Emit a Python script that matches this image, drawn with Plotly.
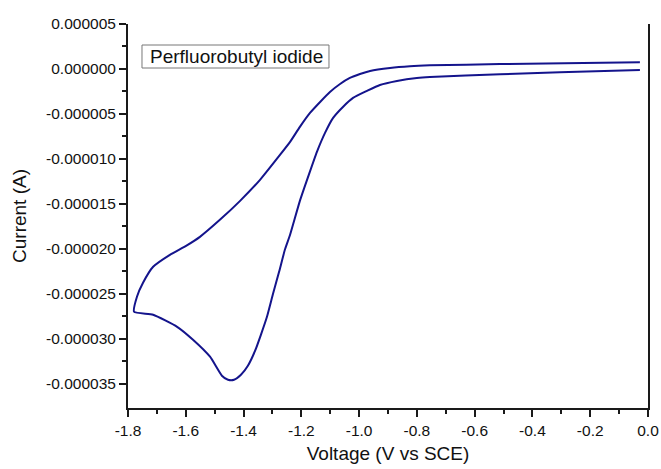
import plotly.graph_objects as go

# Forward (cathodic) sweep: from ~0 V down to the vertex
fwd_v = [-0.028, -0.305, -0.512, -0.755, -0.800, -0.869, -0.928, -0.973, -1.021, -1.056,
         -1.090, -1.118, -1.146, -1.173, -1.205, -1.239, -1.257, -1.277, -1.298, -1.319,
         -1.340, -1.360, -1.385, -1.409, -1.433, -1.454, -1.475, -1.516, -1.575, -1.630,
         -1.713, -1.779]
fwd_i_uA = [-0.11, -0.37, -0.59, -0.89, -1.0, -1.33, -1.78, -2.44, -3.22, -4.22,
            -5.44, -7.11, -9.22, -11.67, -14.67, -18.44, -20.11, -22.56, -25.0, -27.56,
            -29.56, -31.33, -33.0, -34.0, -34.56, -34.56, -34.11, -32.0, -30.11, -28.67,
            -27.33, -27.0]
# Return sweep: from the vertex back to ~0 V
rev_v = [-1.769, -1.748, -1.713, -1.655, -1.599, -1.551, -1.482, -1.412, -1.343, -1.274,
         -1.239, -1.205, -1.170, -1.135, -1.101, -1.066, -1.032, -0.997, -0.962, -0.893,
         -0.824, -0.755, -0.512, -0.028]
rev_i_uA = [-25.33, -23.78, -22.0, -20.67, -19.67, -18.67, -16.78, -14.67, -12.33, -9.56,
            -8.11, -6.44, -4.89, -3.67, -2.56, -1.67, -1.0, -0.56, -0.22, 0.11,
            0.30, 0.40, 0.54, 0.76]

x_ticks = [-1.8, -1.6, -1.4, -1.2, -1.0, -0.8, -0.6, -0.4, -0.2, 0.0]
x_labels = ["-1.8", "-1.6", "-1.4", "-1.2", "-1.0", "-0.8", "-0.6", "-0.4", "-0.2", "0.0"]
y_ticks = [0.000005, 0.0, -0.000005, -0.000010, -0.000015, -0.000020, -0.000025,
           -0.000030, -0.000035]
y_labels = ["0.000005", "0.000000", "-0.000005", "-0.000010", "-0.000015", "-0.000020",
            "-0.000025", "-0.000030", "-0.000035"]
label = "Perfluorobutyl iodide"

volt = fwd_v + rev_v
curr = [v * 1e-6 for v in fwd_i_uA + rev_i_uA]

FONT = "Arial, Liberation Sans, sans-serif"
AX = "#1a1a1a"
Y_RANGE = [-0.0000377, 0.000005]

x_minor = [round((a + b) / 2, 3) for a, b in zip(x_ticks[:-1], x_ticks[1:])]
y_minor = [(a + b) / 2 for a, b in zip(y_ticks[:-1], y_ticks[1:])]

fig = go.Figure()
fig.add_trace(go.Scatter(x=volt, y=curr, mode="lines",
                         line=dict(color="#14148c", width=2, shape="spline", smoothing=0.5),
                         showlegend=False))
fig.add_trace(go.Scatter(x=[None], y=[None], yaxis="y2", showlegend=False))

fig.update_layout(
    width=661, height=469,
    margin=dict(l=128, r=13, t=24, b=61, autoexpand=False),
    paper_bgcolor="white", plot_bgcolor="white",
    font=dict(family=FONT, size=15.5, color="#111"),
    xaxis=dict(range=[-1.8, 0.0], tickmode="array", tickvals=x_ticks, ticktext=x_labels,
               automargin=False,
               showgrid=False, zeroline=False, showline=True, linecolor=AX, linewidth=2,
               ticks="outside", ticklen=7, tickwidth=2, tickcolor=AX,
               minor=dict(tickmode="array", tickvals=x_minor, ticks="outside", ticklen=4,
                          tickwidth=2, tickcolor=AX),
               title=dict(text="Voltage (V vs SCE)", font=dict(size=19), standoff=9)),
    yaxis=dict(range=Y_RANGE, tickmode="array", tickvals=y_ticks, ticktext=y_labels,
               automargin=False,
               showgrid=False, zeroline=False, showline=True, linecolor=AX, linewidth=2,
               ticks="outside", ticklen=7, tickwidth=2, tickcolor=AX,
               minor=dict(tickmode="array", tickvals=y_minor, ticks="outside", ticklen=4,
                          tickwidth=2, tickcolor=AX),
               title=dict(text="Current (A)", font=dict(size=19), standoff=14)),
    yaxis2=dict(overlaying="y", side="right", range=Y_RANGE, showline=True, automargin=False,
                linecolor=AX, linewidth=2, showticklabels=False, ticks="",
                showgrid=False, zeroline=False),
    shapes=[dict(type="rect", xref="paper", yref="paper", x0=0.0269, x1=0.3865,
                 y0=0.8854, y1=0.9453, line=dict(color="#777", width=1),
                 fillcolor="white", layer="above")],
    annotations=[dict(text=label, xref="paper", yref="paper", x=0.2096, y=0.9154,
                      xanchor="center", yanchor="middle", showarrow=False,
                      font=dict(size=19, color="#111"))],
)

fig.write_html("out.html", config={"displayModeBar": False},
               post_script="document.body.style.margin='0';document.body.style.overflow='hidden';")
